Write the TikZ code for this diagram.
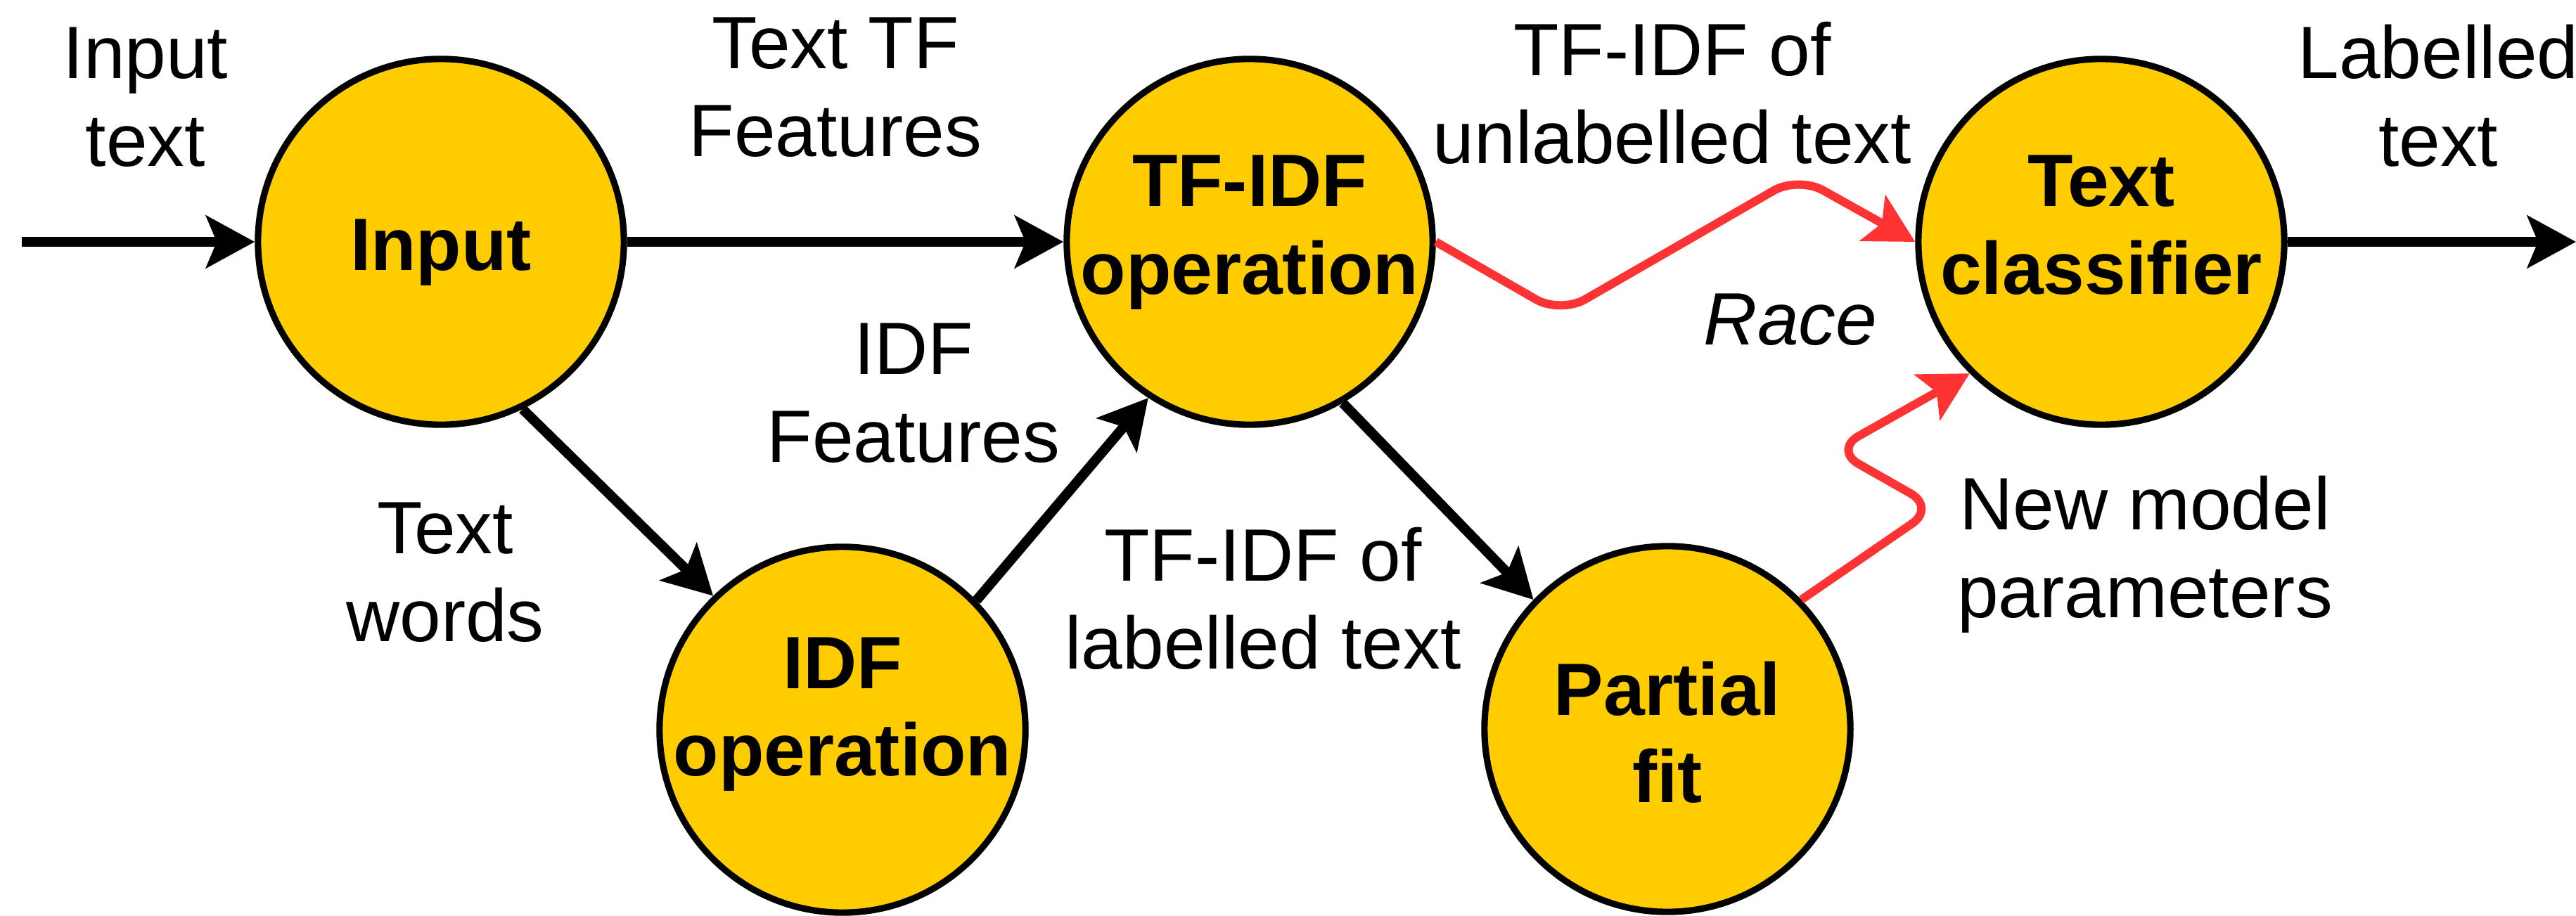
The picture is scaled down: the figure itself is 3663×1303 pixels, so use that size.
\documentclass[tikz,border=0pt]{standalone}
\usepackage{fontspec}
\setmainfont{Liberation Sans}
\usetikzlibrary{arrows.meta}
\definecolor{procfill}{HTML}{FFCC00}
\definecolor{racered}{HTML}{FF3333}
% struts: fixed height above the first baseline and depth below the last one
\newcommand\tb[3]{\rule{0pt}{#1}#3\rule[-#2]{0pt}{#2}}
\newcommand\lb[1]{\tb{28pt}{28pt}{#1}}
\begin{document}
\begin{tikzpicture}[x=0.01cm,y=-0.01cm,
  proc/.style={circle, draw=black, line width=2.6pt, fill=procfill,
               minimum size=5.2cm, inner sep=0pt},
  ptext/.style={font=\fontsize{30}{35.3}\selectfont\bfseries, align=center, inner sep=0pt},
  lbl/.style={font=\fontsize{30}{35.3}\selectfont, align=center, inner sep=0pt},
  flow/.style={line width=4pt, -{Stealth[length=0.69cm,width=0.74cm,inset=0.15cm]}},
  race/.style={flow, line width=3.4pt, draw=racered, rounded corners=0.4cm}]
\useasboundingbox (0,0) rectangle (3663,1303);

% processing steps
\node[proc] (inp) at (627,344) {};
\node[proc] (tf)  at (1777,344) {};
\node[proc] (tc)  at (2988,344) {};
\node[proc] (idf) at (1198,1038) {};
\node[proc] (pf)  at (2371,1037) {};

\node[ptext] (inp-t) at (inp) {\tb{32pt}{8.7pt}{Input}};
\node[ptext] (tf-t)  at (tf)  {\tb{28pt}{21.2pt}{TF-IDF\\operation}};
\node[ptext] (tc-t)  at (tc)  {\tb{28pt}{21.2pt}{Text\\classifier}};
\node[ptext] (idf-t) at (idf) {\tb{28pt}{26pt}{IDF\\operation}};
\node[ptext] (pf-t)  at (pf)  {\tb{32pt}{7.8pt}{Partial\\fit}};

% edge labels
\node[lbl] (l-in)    at (207,174)  {\lb{Input\\text}};
\node[lbl] (l-ttf)   at (1188,160) {\lb{Text TF\\Features}};
\node[lbl] (l-idf)   at (1299,595) {\lb{IDF\\Features}};
\node[lbl] (l-words) at (633,850)  {\lb{Text\\words}};
\node[lbl] (l-lab)   at (1796,889) {\lb{TF-IDF of\\labelled text}};
\node[lbl] (l-unl)   at (2378,170) {\lb{TF-IDF of\\unlabelled text}};
\node[lbl] (l-race)  at (2546,490) {\lb{\itshape Race}};
\node[lbl] (l-out)   at (3467,174) {\lb{Labelled\\text}};
\node[lbl] (l-new)   at (3050,816) {\lb{New model\\parameters}};

% flows
\coordinate (src) at (31,344);
\coordinate (snk) at (3663,344);
\draw[flow] (src) -- (inp.west);
\draw[flow] (inp.east) -- (tf.west);
\draw[flow] (tc.east) -- (snk);
\draw[flow] (inp.-64) -- (idf.134.5);
\draw[flow] (idf.44) -- (tf.237);
\draw[flow] (tf.-60) -- (pf.136);

% competing updates of the classifier
\draw[race] (tf.east) -- (2219,446) -- (2557,251) -- (tc.west);
\draw[race] (pf.44) -- (2752,722) -- (2608,640) -- (tc.225);
\end{tikzpicture}
\end{document}
